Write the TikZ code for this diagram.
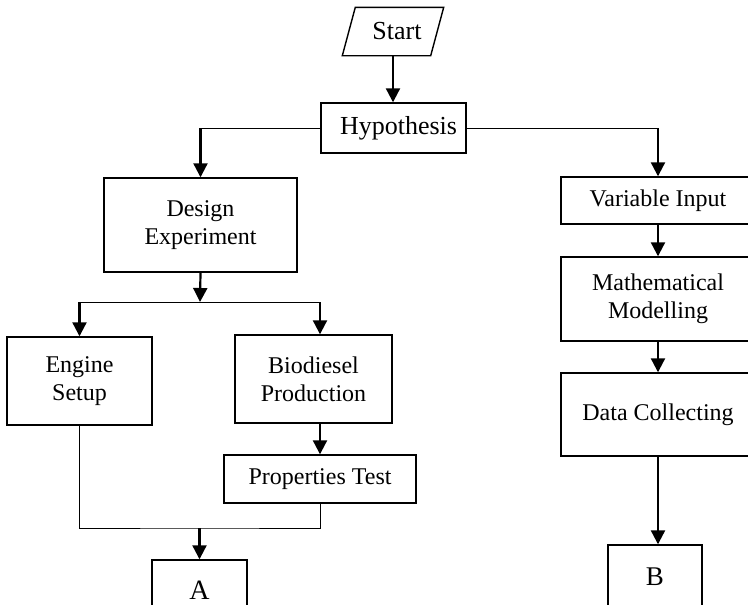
\documentclass[tikz,border=0pt]{standalone}
\usepackage{fontspec}
\setmainfont{Liberation Serif}
\usetikzlibrary{arrows.meta}

\begin{document}
\begin{tikzpicture}[x=1pt,y=-1pt,
  box/.style={draw,line width=1.4pt,align=center,inner sep=0pt,
    font=\fontsize{24}{28}\selectfont},
  arr/.style={line width=2.2pt,-{Triangle[width=14pt,length=14pt]}},
  link/.style={line width=1pt}]
\useasboundingbox (0,0) rectangle (748,605);
\clip (0,0) rectangle (748,605);
\node[box,draw=none,minimum width=87,minimum height=47,
  font=\fontsize{26}{30}\selectfont] (start) at (393,31.5) {\hspace*{8pt}Start};
\draw[line width=1.4pt] ([xshift=6.5pt]start.north west) -- ([xshift=6.5pt]start.north east)
  -- ([xshift=-6.5pt]start.south east) -- ([xshift=-6.5pt]start.south west) -- cycle;
\node[box,minimum width=145,minimum height=50,
  font=\fontsize{26}{30}\selectfont] (hyp) at (393.5,128) {\hspace*{10pt}Hypothesis};
\node[box,minimum width=193,minimum height=94] (design) at (200.5,225) {Design\\Experiment};
\node[box,minimum width=145,minimum height=88] (engine) at (79.5,381) {Engine\\Setup};
\node[box,minimum width=157,minimum height=88] (bio) at (313.5,379) {Biodiesel\\Production};
\node[box,minimum width=192,minimum height=48] (prop) at (320,479) {Properties Test};
\node[box,minimum width=95,minimum height=60,
  font=\fontsize{28}{32}\selectfont] (a) at (199.5,590) {A};
\node[box,minimum width=194,minimum height=47] (var) at (658,200.5) {Variable Input};
\node[box,minimum width=194,minimum height=84] (math) at (658,299) {Mathematical\\Modelling};
\node[box,minimum width=194,minimum height=83] (data) at (658,414.5) {Data Collecting};
\node[box,minimum width=94,minimum height=64,
  font=\fontsize{27}{31}\selectfont] (b) at (655,577) {B};
\coordinate (split) at (200,302);
\coordinate (join) at (199.5,528);

\draw[arr] (start.south) -- (start.south |- hyp.north);
\draw[link] (hyp.west) -- (hyp.west -| design.north);
\draw[arr] (hyp.west -| design.north) -- (design.north);
\draw[link] (hyp.east) -- (hyp.east -| var.north);
\draw[arr] (hyp.east -| var.north) -- (var.north);
\draw[arr] (design.south) -- (split);
\draw[link] (split -| engine) -- (split -| prop);
\draw[arr] (split -| engine) -- (engine.north);
\draw[arr] (split -| prop) -- (prop |- bio.north);
\draw[arr] (prop |- bio.south) -- (prop.north);
\draw[link] (engine.south) |- (join) -| (prop.south);
\draw[arr] (join) -- (a.north);
\draw[arr] (var.south) -- (math.north);
\draw[arr] (math.south) -- (data.north);
\draw[arr] (data.south) -- (data.south |- b.north);
\end{tikzpicture}
\end{document}
